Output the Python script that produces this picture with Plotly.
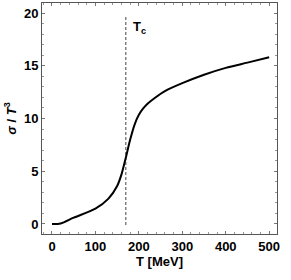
import plotly.graph_objects as go

T = [0, 20, 50, 100, 130, 150, 160, 170, 180, 190, 200, 210, 220, 235, 260, 300, 350, 400, 450, 500]
sigma = [0, 0.05, 0.6, 1.45, 2.4, 3.6, 4.7, 6.3, 8.0, 9.4, 10.35, 10.95, 11.4, 11.9, 12.6, 13.35, 14.15, 14.8, 15.3, 15.8]
Tc = 170
tc_line_y = [-0.1, 19.8]
x_ticks = [0, 100, 200, 300, 400, 500]
y_ticks = [0, 5, 10, 15, 20]

font = dict(family="Liberation Sans, Arial, sans-serif", size=13, color="black", weight="bold")

fig = go.Figure()
fig.add_trace(go.Scatter(x=[Tc, Tc], y=tc_line_y, mode="lines",
                         line=dict(color="#444", width=1, dash="3px,2px"), showlegend=False))
fig.add_trace(go.Scatter(x=T, y=sigma, mode="lines", line=dict(color="black", width=2, shape="spline", smoothing=0.8),
                         showlegend=False))
fig.add_annotation(x=183, y=18.6, text="T<sub>c</sub>", showarrow=False, xanchor="left",
                   font=dict(family="Liberation Sans, Arial, sans-serif", size=13, color="black", weight="bold"))

axcommon = dict(showgrid=False, zeroline=False, showline=True, linecolor="#555", linewidth=1,
                mirror="allticks", ticks="inside", ticklen=3, tickcolor="#777", tickfont=font, automargin=False)
fig.update_xaxes(range=[-23, 518], tickvals=x_ticks, minor=dict(ticks="inside", dtick=20, ticklen=2, tickcolor="#999"),
                 title=dict(text="T [MeV]", font=font, standoff=4), **axcommon)
fig.update_yaxes(range=[-0.95, 20.95], tickvals=y_ticks, minor=dict(ticks="inside", dtick=1, ticklen=2, tickcolor="#999"),
                 title=dict(text="<i>σ</i> / <i>T</i><sup>3</sup>", font=font, standoff=4), **axcommon)
fig.update_layout(width=291, height=280, margin=dict(l=42, r=14, t=3, b=46),
                  paper_bgcolor="white", plot_bgcolor="white")
fig.write_html("out.html", config={"displayModeBar": False},
               post_script="document.body.style.margin='0';document.body.style.overflow='hidden';")
